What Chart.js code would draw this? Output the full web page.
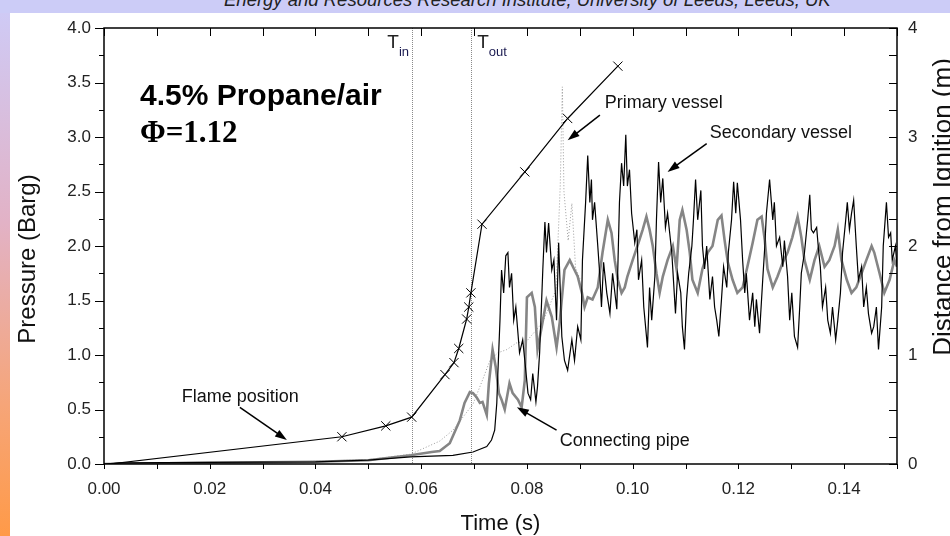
<!DOCTYPE html>
<html><head><meta charset="utf-8">
<script src="https://cdn.jsdelivr.net/npm/chart.js@4.4.0/dist/chart.umd.min.js"></script>
<style>
html,body{margin:0;padding:0;background:#fff;width:950px;height:536px;overflow:hidden;}
#banner{position:absolute;left:0;top:0;width:950px;height:13px;background:#ccccf7;overflow:hidden;}
#banner span{position:absolute;left:224px;top:-11px;font:italic 18.5px "Liberation Sans",Arial,sans-serif;color:#222;white-space:nowrap;}
#strip{position:absolute;left:0;top:13px;width:10px;height:523px;background:linear-gradient(#cfcaf5,#e2b2c6 40%,#f6a578 75%,#ff9a48);}
#c{position:absolute;left:0;top:0;}
</style></head>
<body>
<div id="banner"><span>Energy and Resources Research Institute, University of Leeds, Leeds, UK</span></div>
<div id="strip"></div>
<canvas id="c" width="950" height="536"></canvas>
<script>
// ---------------- DATA ----------------
const timeTicks = [0, 0.02, 0.04, 0.06, 0.08, 0.10, 0.12, 0.14];
const timeLabels = ['0.00','0.02','0.04','0.06','0.08','0.10','0.12','0.14'];
const pressureTicks = [0, 0.5, 1.0, 1.5, 2.0, 2.5, 3.0, 3.5, 4.0];
const pressureLabels = ['0.0','0.5','1.0','1.5','2.0','2.5','3.0','3.5','4.0'];
const distanceTicks = [0, 1, 2, 3, 4];
const distanceLabels = ['0','1','2','3','4'];

// Flame position (distance from ignition, m) vs time (s)
const flameTime = [0.001, 0.045, 0.0533, 0.0582, 0.0645, 0.0662, 0.0671, 0.0686, 0.0690, 0.0694, 0.0715, 0.0796, 0.0877, 0.0972];
const flameDist = [0.00, 0.25, 0.35, 0.43, 0.82, 0.93, 1.06, 1.33, 1.44, 1.57, 2.20, 2.68, 3.17, 3.65];

// Secondary vessel pressure (black)
const secondaryVessel = [
[0,0],[0.003,0.01],[0.02,0.015],[0.04,0.02],[0.05,0.035],[0.058,0.065],[0.066,0.08],[0.0698,0.11],[0.0724,0.16],
[0.0733,0.22],[0.0739,0.31],[0.0743,0.56],[0.0745,0.83],[0.0749,1.32],[0.0752,1.78],[0.0756,1.57],[0.0760,1.91],
[0.0764,1.94],[0.0767,1.62],[0.0771,1.75],[0.0775,1.32],[0.0779,1.44],[0.0783,1.20],[0.0786,1.02],[0.0792,1.14],
[0.0796,0.95],[0.0802,0.65],[0.0807,0.59],[0.0811,0.83],[0.0817,0.57],[0.0820,0.71],[0.0824,1.02],[0.0830,1.78],
[0.0834,2.22],[0.0837,1.94],[0.0841,2.21],[0.0847,1.78],[0.0851,1.87],[0.0856,1.32],[0.0860,2.03],[0.0866,1.17],
[0.0871,0.95],[0.0877,0.86],[0.0885,1.14],[0.0890,0.95],[0.0896,1.26],[0.0902,1.14],[0.0905,1.87],[0.0911,2.40],
[0.0915,2.83],[0.0919,2.40],[0.0922,2.61],[0.0924,2.24],[0.0928,2.40],[0.0934,2.00],[0.0938,1.72],[0.0941,1.44],
[0.0945,1.85],[0.0951,1.57],[0.0957,1.38],[0.0962,1.75],[0.0970,1.42],[0.0975,2.40],[0.0979,2.76],[0.0983,2.55],
[0.0987,3.02],[0.0990,2.55],[0.0994,2.70],[0.0998,2.30],[0.1004,2.03],[0.1008,2.15],[0.1011,1.69],[0.1017,1.87],
[0.1021,1.44],[0.1028,1.07],[0.1032,1.62],[0.1036,1.32],[0.1042,1.72],[0.1045,2.24],[0.1049,2.77],[0.1053,2.40],
[0.1057,2.62],[0.1062,2.17],[0.1066,2.30],[0.1074,1.94],[0.1081,1.38],[0.1085,1.75],[0.1091,1.57],[0.1094,1.26],
[0.1098,1.05],[0.1102,1.51],[0.1106,1.75],[0.1112,2.00],[0.1115,2.24],[0.1119,2.61],[0.1123,2.24],[0.1129,2.51],
[0.1132,2.00],[0.1136,1.79],[0.1140,2.00],[0.1146,1.51],[0.1151,1.72],[0.1155,1.44],[0.1159,1.32],[0.1163,1.17],
[0.1168,1.51],[0.1172,1.81],[0.1178,1.62],[0.1181,1.94],[0.1187,2.24],[0.1191,2.59],[0.1195,2.30],[0.1198,2.58],
[0.1204,2.24],[0.1208,1.87],[0.1212,1.57],[0.1215,1.75],[0.1221,1.32],[0.1227,1.57],[0.1231,1.26],[0.1234,1.51],
[0.1240,1.20],[0.1246,1.69],[0.1250,2.00],[0.1253,2.30],[0.1259,2.61],[0.1265,2.24],[0.1268,2.40],[0.1272,2.00],
[0.1278,2.08],[0.1284,1.81],[0.1287,2.05],[0.1293,1.72],[0.1297,1.32],[0.1301,1.57],[0.1306,1.17],[0.1312,1.07],
[0.1316,1.44],[0.1319,1.75],[0.1325,1.94],[0.1331,2.24],[0.1335,2.47],[0.1338,2.15],[0.1342,2.12],[0.1348,2.17],
[0.1352,1.94],[0.1355,1.81],[0.1359,1.44],[0.1365,1.62],[0.1369,1.32],[0.1374,1.20],[0.1378,1.44],[0.1384,1.14],
[0.1388,1.32],[0.1393,1.57],[0.1397,1.94],[0.1403,2.24],[0.1406,2.40],[0.1410,2.15],[0.1414,2.30],[0.1418,2.42],
[0.1423,2.00],[0.1427,1.69],[0.1433,1.81],[0.1437,1.44],[0.1442,1.62],[0.1446,1.38],[0.1452,1.20],[0.1456,1.26],
[0.1461,1.44],[0.1465,1.05],[0.1471,1.44],[0.1474,2.00],[0.1480,2.40],[0.1484,2.08],[0.1488,2.12],[0.1491,1.87],
[0.1497,2.00],[0.1500,1.81]
];

// Connecting pipe pressure (grey)
const connectingPipe = [
[0,0],[0.02,0.01],[0.04,0.02],[0.05,0.035],[0.058,0.08],[0.062,0.11],[0.0635,0.12],[0.0654,0.19],[0.0673,0.40],
[0.0682,0.56],[0.0692,0.66],[0.0698,0.65],[0.0705,0.61],[0.0711,0.56],[0.0716,0.57],[0.0724,0.45],[0.0728,0.74],
[0.0735,1.05],[0.0741,0.89],[0.0747,0.65],[0.0752,0.59],[0.0758,0.50],[0.0767,0.74],[0.0773,0.65],[0.0783,0.59],
[0.0790,0.52],[0.0796,0.77],[0.0800,1.53],[0.0809,1.57],[0.0815,1.44],[0.0820,1.05],[0.0828,1.26],[0.0837,1.50],
[0.0847,1.35],[0.0856,1.07],[0.0862,1.30],[0.0871,1.78],[0.0881,1.87],[0.0890,1.78],[0.0896,1.72],[0.0904,1.57],
[0.0909,1.44],[0.0915,1.53],[0.0924,1.51],[0.0934,1.62],[0.0943,1.94],[0.0953,2.24],[0.0960,2.12],[0.0966,1.87],
[0.0972,1.69],[0.0979,1.57],[0.0985,1.62],[0.0990,1.72],[0.1000,1.87],[0.1009,2.00],[0.1019,2.15],[0.1026,2.27],
[0.1032,2.15],[0.1038,2.00],[0.1045,1.75],[0.1051,1.57],[0.1057,1.72],[0.1066,1.87],[0.1076,2.00],[0.1083,1.79],
[0.1089,2.24],[0.1094,2.33],[0.1102,2.15],[0.1108,1.94],[0.1113,1.69],[0.1123,1.57],[0.1132,1.79],[0.1142,1.94],
[0.1151,2.00],[0.1161,2.24],[0.1168,2.28],[0.1174,2.05],[0.1180,1.85],[0.1189,1.69],[0.1198,1.57],[0.1208,1.62],
[0.1217,1.81],[0.1227,2.03],[0.1236,2.24],[0.1244,2.27],[0.1250,2.05],[0.1255,1.79],[0.1265,1.62],[0.1274,1.72],
[0.1284,1.85],[0.1293,1.94],[0.1302,2.08],[0.1312,2.27],[0.1319,2.08],[0.1325,1.87],[0.1335,1.69],[0.1344,1.87],
[0.1353,2.00],[0.1363,1.81],[0.1372,1.87],[0.1382,2.00],[0.1388,2.15],[0.1395,1.87],[0.1405,1.69],[0.1414,1.57],
[0.1423,1.62],[0.1433,1.75],[0.1442,1.87],[0.1452,2.00],[0.1457,1.94],[0.1467,1.75],[0.1476,1.57],[0.1486,1.69],
[0.1495,1.87],[0.1500,1.81]
];

// Primary vessel pressure (faint dotted)
const primaryVessel = [
[0.03,0.01],[0.05,0.04],[0.058,0.09],[0.0635,0.21],[0.066,0.31],[0.0698,0.55],[0.0716,0.77],[0.073,0.95],
[0.0745,1.02],[0.0762,1.05],[0.078,1.11],[0.080,1.13],[0.083,1.30],[0.0855,1.60],[0.0863,2.55],[0.0867,3.46],
[0.0870,2.50],[0.0878,2.05],[0.0885,2.39],[0.0892,1.80],[0.0900,1.70]
];

const tIn = 0.0582, tOut = 0.0694;

// ---------------- CHART ----------------
const FONT = '"Liberation Sans", Arial, sans-serif';
const toXY = arr => arr.map(p => ({x: p[0], y: p[1]}));

const overlay = {
  id: 'overlay',
  beforeDatasetsDraw(chart) {
    const ctx = chart.ctx, {top, bottom} = chart.chartArea, x = chart.scales.x;
    ctx.save();
    ctx.strokeStyle = '#8a8a8a'; ctx.lineWidth = 1; ctx.setLineDash([1, 1]);
    [tIn, tOut].forEach(t => {
      const px = Math.round(x.getPixelForValue(t)) + 0.5;
      ctx.beginPath(); ctx.moveTo(px, top); ctx.lineTo(px, bottom); ctx.stroke();
    });
    ctx.restore();
  },
  afterDatasetsDraw(chart) {
    const ctx = chart.ctx, {left, right, top, bottom} = chart.chartArea;
    const x = chart.scales.x, y = chart.scales.y, y2 = chart.scales.y2;
    const P = (t, v) => [x.getPixelForValue(t), y.getPixelForValue(v)];
    ctx.save();
    ctx.strokeStyle = '#000'; ctx.lineWidth = 1; ctx.setLineDash([]);
    for (let i = 0; i <= 15; i++) {
      const px = Math.round(x.getPixelForValue(i * 0.01)) + 0.5;
      ctx.beginPath(); ctx.moveTo(px, bottom); ctx.lineTo(px, bottom + 5); ctx.stroke();
      ctx.beginPath(); ctx.moveTo(px, top); ctx.lineTo(px, top + 8); ctx.stroke();
    }
    for (let i = 0; i <= 16; i++) {
      const py = Math.round(y.getPixelForValue(i * 0.25)) + 0.5;
      const len = (i % 2 === 0) ? 9 : 5;
      ctx.beginPath(); ctx.moveTo(left - len, py); ctx.lineTo(left, py); ctx.stroke();
      const py2 = Math.round(y2.getPixelForValue(i * 0.25)) + 0.5;
      ctx.beginPath(); ctx.moveTo(right - 8, py2); ctx.lineTo(right, py2); ctx.stroke();
    }
    ctx.lineWidth = 1.5;
    ctx.strokeRect(left, top, right - left, bottom - top);

    // axis titles
    ctx.fillStyle = '#111';
    ctx.textAlign = 'center'; ctx.textBaseline = 'middle';
    ctx.font = '22px ' + FONT;
    ctx.fillText('Time (s)', (left + right) / 2, 524);
    ctx.font = '24px ' + FONT;
    ctx.save(); ctx.translate(28, 259); ctx.rotate(-Math.PI / 2);
    ctx.fillText('Pressure (Barg)', 0, 0); ctx.restore();
    ctx.font = '26px ' + FONT;
    ctx.save(); ctx.translate(944, 207); ctx.rotate(-Math.PI / 2);
    ctx.fillText('Distance from Ignition (m)', 0, 0); ctx.restore();

    // headline text
    ctx.textAlign = 'left'; ctx.textBaseline = 'alphabetic';
    ctx.fillStyle = '#000';
    ctx.font = 'bold 30px ' + FONT;
    let p = P(0.0068, 3.29);
    ctx.fillText('4.5% Propane/air', p[0], p[1]);
    ctx.font = 'bold 31px "Liberation Serif", "Times New Roman", serif';
    p = P(0.0068, 2.95);
    ctx.fillText('\u03A6=1.12', p[0], p[1]);

    const tLabel = (t, sub) => {
      const q = P(t, 3.82);
      ctx.fillStyle = '#222'; ctx.font = '19px ' + FONT;
      ctx.fillText('T', q[0], q[1]);
      const w = ctx.measureText('T').width;
      ctx.fillStyle = '#1a1a50'; ctx.font = '13px ' + FONT;
      ctx.fillText(sub, q[0] + w, q[1] + 8);
    };
    tLabel(0.0536, 'in');
    tLabel(0.0706, 'out');

    const notes = [
      {text: 'Primary vessel', at: [0.0947, 3.27], from: [0.0938, 3.20], to: [0.0877, 2.97]},
      {text: 'Secondary vessel', at: [0.1146, 2.99], from: [0.1140, 2.94], to: [0.1066, 2.68]},
      {text: 'Flame position', at: [0.0147, 0.57], from: [0.0257, 0.52], to: [0.0346, 0.22]},
      {text: 'Connecting pipe', at: [0.0862, 0.165], from: [0.0856, 0.31], to: [0.0781, 0.52]}
    ];
    ctx.font = '18px ' + FONT;
    notes.forEach(n => {
      ctx.fillStyle = '#111';
      const a = P(n.at[0], n.at[1]);
      ctx.fillText(n.text, a[0], a[1]);
      const f = P(n.from[0], n.from[1]), t = P(n.to[0], n.to[1]);
      const ang = Math.atan2(t[1] - f[1], t[0] - f[0]);
      ctx.strokeStyle = '#000'; ctx.lineWidth = 1.5;
      ctx.beginPath(); ctx.moveTo(f[0], f[1]);
      ctx.lineTo(t[0] - 8 * Math.cos(ang), t[1] - 8 * Math.sin(ang)); ctx.stroke();
      ctx.beginPath();
      ctx.moveTo(t[0], t[1]);
      ctx.lineTo(t[0] - 12 * Math.cos(ang) + 4 * Math.sin(ang), t[1] - 12 * Math.sin(ang) - 4 * Math.cos(ang));
      ctx.lineTo(t[0] - 12 * Math.cos(ang) - 4 * Math.sin(ang), t[1] - 12 * Math.sin(ang) + 4 * Math.cos(ang));
      ctx.closePath(); ctx.fillStyle = '#000'; ctx.fill();
    });
    ctx.restore();
  }
};

new Chart(document.getElementById('c'), {
  type: 'line',
  data: {
    datasets: [
      {
        label: 'Flame position', yAxisID: 'y2',
        data: flameTime.map((t, i) => ({x: t, y: flameDist[i]})),
        borderColor: '#000', borderWidth: 1.2, tension: 0,
        pointStyle: 'crossRot', pointRadius: flameTime.map((t, i) => i === 0 ? 0 : 6.5),
        pointBorderColor: '#000', pointBorderWidth: 1, pointBackgroundColor: '#000'
      },
      {
        label: 'Secondary vessel', yAxisID: 'y',
        data: toXY(secondaryVessel),
        borderColor: '#000', borderWidth: 1.2, pointRadius: 0, tension: 0
      },
      {
        label: 'Connecting pipe', yAxisID: 'y',
        data: toXY(connectingPipe),
        borderColor: '#858585', borderWidth: 2.6, pointRadius: 0, tension: 0
      },
      {
        label: 'Primary vessel', yAxisID: 'y',
        data: toXY(primaryVessel),
        borderColor: 'rgba(140,140,140,0.85)', borderWidth: 1, borderDash: [1, 2], pointRadius: 0, tension: 0
      }
    ]
  },
  options: {
    responsive: false, animation: false, devicePixelRatio: 1,
    layout: {padding: {top: 28, left: 0, right: 0, bottom: 0}},
    plugins: {legend: {display: false}, tooltip: {enabled: false}},
    scales: {
      x: {
        type: 'linear', min: 0, max: 0.15,
        afterBuildTicks: s => { s.ticks = timeTicks.map(v => ({value: v})); },
        afterFit: s => { s.height = 72; },
        grid: {display: false, drawTicks: false}, border: {display: false},
        ticks: {callback: (v, i) => timeLabels[i], color: '#222', font: {family: FONT, size: 17}, padding: 15, maxRotation: 0}
      },
      y: {
        type: 'linear', position: 'left', min: 0, max: 4,
        afterBuildTicks: s => { s.ticks = pressureTicks.map(v => ({value: v})); },
        afterFit: s => { s.width = 104; },
        grid: {display: false, drawTicks: false}, border: {display: false},
        ticks: {callback: (v, i) => pressureLabels[i], color: '#222', font: {family: FONT, size: 17}, padding: 13}
      },
      y2: {
        type: 'linear', position: 'right', min: 0, max: 4,
        afterBuildTicks: s => { s.ticks = distanceTicks.map(v => ({value: v})); },
        afterFit: s => { s.width = 53; },
        grid: {display: false, drawTicks: false}, border: {display: false},
        ticks: {callback: (v, i) => distanceLabels[i], color: '#222', font: {family: FONT, size: 17}, padding: 11}
      }
    }
  },
  plugins: [overlay]
});
</script>
</body></html>
